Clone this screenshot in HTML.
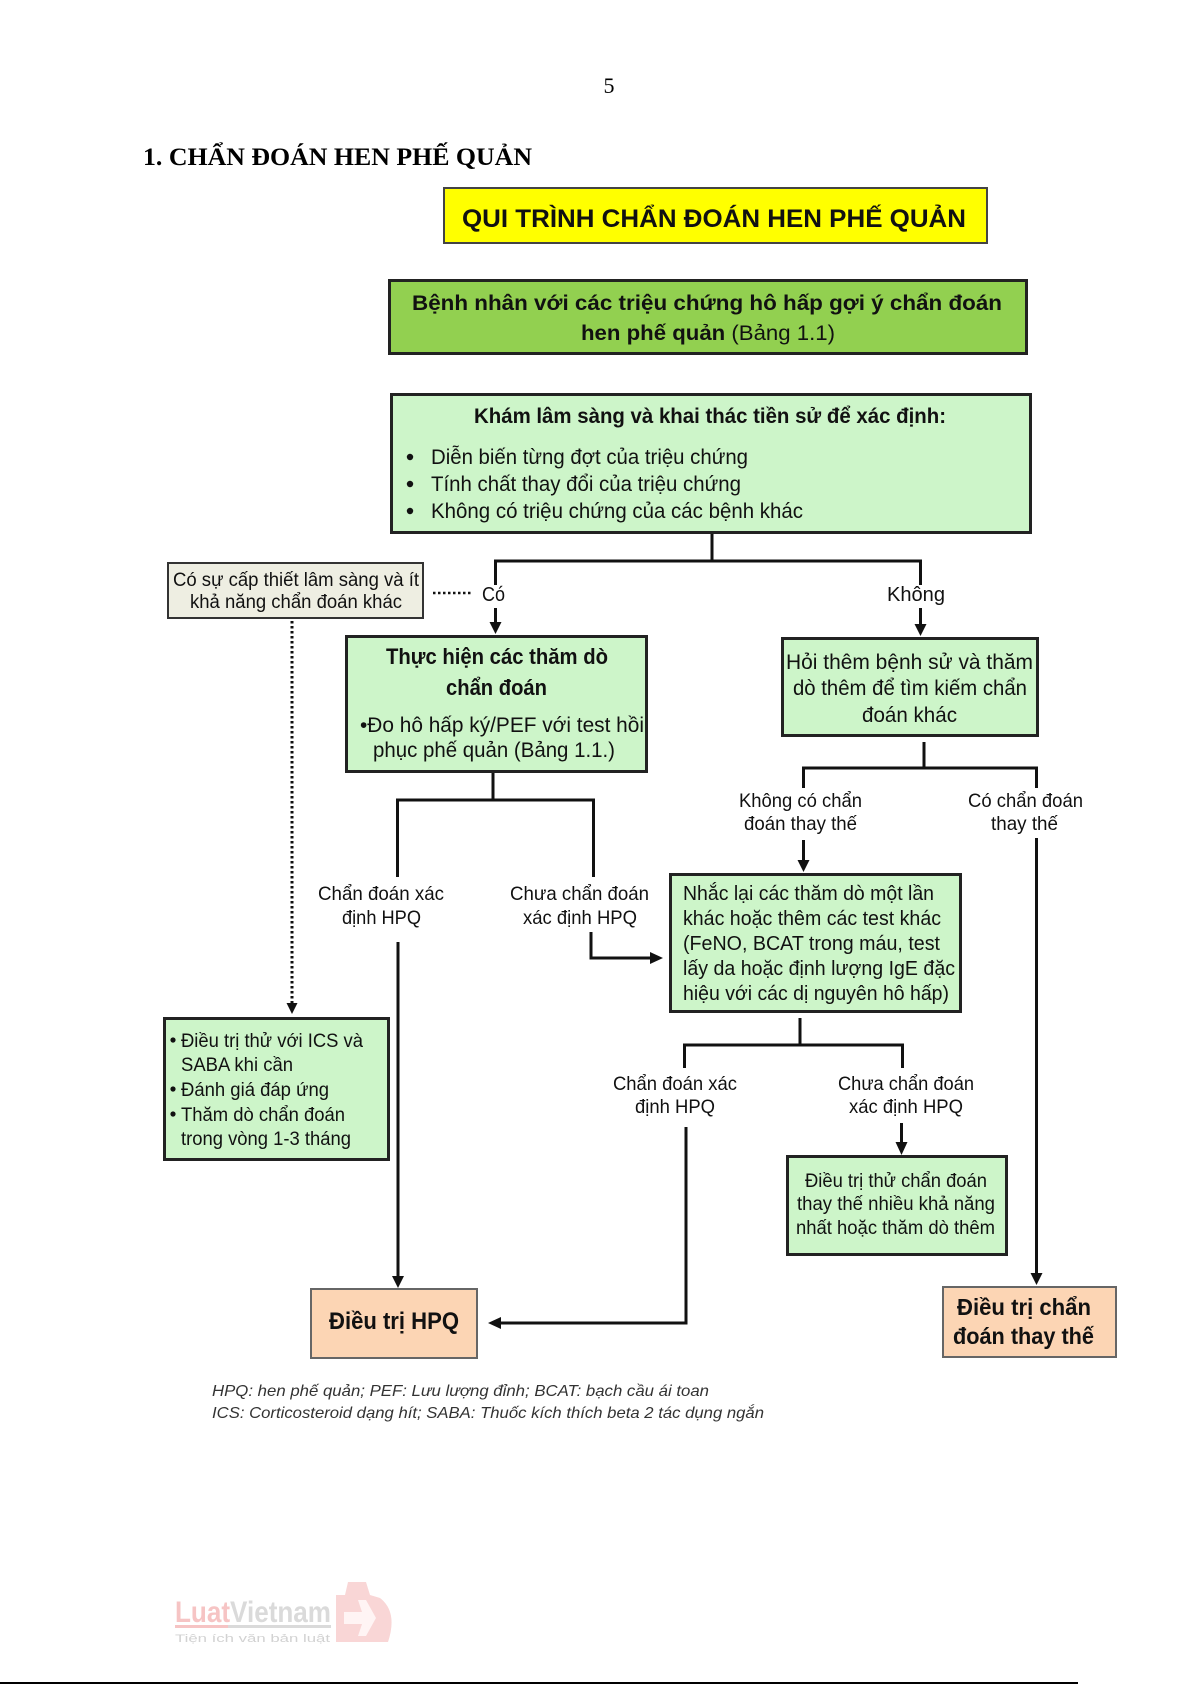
<!DOCTYPE html>
<html>
<head>
<meta charset="utf-8">
<style>
  html,body{margin:0;padding:0;background:#fff;}
  body{width:1192px;height:1685px;overflow:hidden;}
  svg{display:block;}
  .s{font-family:"Liberation Sans",Arial,sans-serif;fill:#111;}
  .b{font-weight:bold;}
  .t{font-family:"Liberation Serif","Times New Roman",serif;fill:#000;}
</style>
</head>
<body>
<svg width="1192" height="1685" viewBox="0 0 1192 1685" xmlns="http://www.w3.org/2000/svg">
  <rect x="0" y="0" width="1192" height="1685" fill="#fff"/>

  <!-- page number & heading -->
  <text class="t" x="609" y="93" font-size="22" text-anchor="middle">5</text>
  <text class="t" x="143" y="165" font-size="25" font-weight="bold" textLength="389" lengthAdjust="spacingAndGlyphs">1. CHẨN ĐOÁN HEN PHẾ QUẢN</text>

  <!-- yellow title -->
  <rect x="444" y="188" width="543" height="55" fill="#ffff00" stroke="#444" stroke-width="2"/>
  <text class="s b" x="462" y="227" font-size="25" textLength="504" lengthAdjust="spacingAndGlyphs">QUI TRÌNH CHẨN ĐOÁN HEN PHẾ QUẢN</text>

  <!-- green 1 -->
  <rect x="389.5" y="280.5" width="637" height="73" fill="#92d050" stroke="#222" stroke-width="3"/>
  <text class="s b" x="412" y="310" font-size="21" textLength="590" lengthAdjust="spacingAndGlyphs">Bệnh nhân với các triệu chứng hô hấp gợi ý chẩn đoán</text>
  <text class="s" x="581" y="340" font-size="21" textLength="254" lengthAdjust="spacingAndGlyphs"><tspan font-weight="bold">hen phế quản </tspan><tspan>(Bảng 1.1)</tspan></text>

  <!-- Kham box -->
  <rect x="391.5" y="394.5" width="639" height="138" fill="#cdf5c9" stroke="#222" stroke-width="3"/>
  <text class="s b" x="474" y="423" font-size="21" textLength="472" lengthAdjust="spacingAndGlyphs">Khám lâm sàng và khai thác tiền sử để xác định:</text>
  <circle cx="410" cy="457" r="3.2" fill="#111"/>
  <circle cx="410" cy="484" r="3.2" fill="#111"/>
  <circle cx="410" cy="511" r="3.2" fill="#111"/>
  <text class="s" x="431" y="464" font-size="21" textLength="317" lengthAdjust="spacingAndGlyphs">Diễn biến từng đợt của triệu chứng</text>
  <text class="s" x="431" y="491" font-size="21" textLength="310" lengthAdjust="spacingAndGlyphs">Tính chất thay đổi của triệu chứng</text>
  <text class="s" x="431" y="518" font-size="21" textLength="372" lengthAdjust="spacingAndGlyphs">Không có triệu chứng của các bệnh khác</text>

  <!-- connector from Kham -->
  <g stroke="#111" stroke-width="3" fill="none">
    <line x1="712" y1="534" x2="712" y2="561"/>
    <line x1="494" y1="561" x2="922" y2="561"/>
    <line x1="495.5" y1="560" x2="495.5" y2="585"/>
    <line x1="920.5" y1="560" x2="920.5" y2="585"/>
    <line x1="495.5" y1="608" x2="495.5" y2="624"/>
    <line x1="920.5" y1="608" x2="920.5" y2="626"/>
  </g>
  <polygon points="489.5,622 501.5,622 495.5,634" fill="#111"/>
  <polygon points="914.5,624 926.5,624 920.5,636" fill="#111"/>
  <text class="s" x="482" y="601" font-size="20" textLength="23" lengthAdjust="spacingAndGlyphs">Có</text>
  <text class="s" x="887" y="601" font-size="20" textLength="58" lengthAdjust="spacingAndGlyphs">Không</text>
  <line x1="433" y1="593" x2="473" y2="593" stroke="#111" stroke-width="2.5" stroke-dasharray="2.5,2.5"/>

  <!-- gray box -->
  <rect x="168" y="563" width="255" height="55" fill="#eeeee2" stroke="#333" stroke-width="2"/>
  <text class="s" x="173" y="586" font-size="19" textLength="246" lengthAdjust="spacingAndGlyphs">Có sự cấp thiết lâm sàng và ít</text>
  <text class="s" x="190" y="608" font-size="19" textLength="212" lengthAdjust="spacingAndGlyphs">khả năng chẩn đoán khác</text>

  <!-- dotted vertical -->
  <line x1="292" y1="621" x2="292" y2="1003" stroke="#111" stroke-width="3" stroke-dasharray="2.5,2.5"/>
  <polygon points="286.5,1003 297.5,1003 292,1014" fill="#111"/>

  <!-- Thuc hien box -->
  <rect x="346.5" y="636.5" width="300" height="135" fill="#cdf5c9" stroke="#222" stroke-width="3"/>
  <text class="s b" x="386" y="664" font-size="22" textLength="222" lengthAdjust="spacingAndGlyphs">Thực hiện các thăm dò</text>
  <text class="s b" x="446" y="695" font-size="22" textLength="101" lengthAdjust="spacingAndGlyphs">chẩn đoán</text>
  <text class="s" x="360" y="732" font-size="21" textLength="284" lengthAdjust="spacingAndGlyphs">•Đo hô hấp ký/PEF với test hồi</text>
  <text class="s" x="373" y="757" font-size="21" textLength="242" lengthAdjust="spacingAndGlyphs">phục phế quản (Bảng 1.1.)</text>

  <!-- Hoi box -->
  <rect x="782.5" y="638.5" width="255" height="97" fill="#cdf5c9" stroke="#222" stroke-width="3"/>
  <text class="s" x="786" y="669" font-size="21" textLength="247" lengthAdjust="spacingAndGlyphs">Hỏi  thêm bệnh sử và thăm</text>
  <text class="s" x="793" y="695" font-size="21" textLength="234" lengthAdjust="spacingAndGlyphs">dò thêm để tìm kiếm chẩn</text>
  <text class="s" x="862" y="722" font-size="21" textLength="95" lengthAdjust="spacingAndGlyphs">đoán khác</text>

  <!-- connectors from Thuc hien -->
  <g stroke="#111" stroke-width="3" fill="none">
    <line x1="493" y1="773" x2="493" y2="800"/>
    <line x1="396" y1="800" x2="595" y2="800"/>
    <line x1="397.5" y1="799" x2="397.5" y2="877"/>
    <line x1="593.5" y1="799" x2="593.5" y2="877"/>
    <line x1="398" y1="942" x2="398" y2="1276"/>
    <polyline points="591,932 591,958 652,958"/>
  </g>
  <polygon points="392,1276 404,1276 398,1288" fill="#111"/>
  <polygon points="650,952 650,964 663,958" fill="#111"/>
  <text class="s" x="318" y="900" font-size="19.5" textLength="126" lengthAdjust="spacingAndGlyphs">Chẩn đoán xác</text>
  <text class="s" x="342" y="924" font-size="19.5" textLength="79" lengthAdjust="spacingAndGlyphs">định HPQ</text>
  <text class="s" x="510" y="900" font-size="19.5" textLength="139" lengthAdjust="spacingAndGlyphs">Chưa chẩn đoán</text>
  <text class="s" x="523" y="924" font-size="19.5" textLength="114" lengthAdjust="spacingAndGlyphs">xác định HPQ</text>

  <!-- connectors from Hoi -->
  <g stroke="#111" stroke-width="3" fill="none">
    <line x1="924" y1="742" x2="924" y2="768"/>
    <line x1="802" y1="768" x2="1038" y2="768"/>
    <line x1="803.5" y1="767" x2="803.5" y2="788"/>
    <line x1="1036.5" y1="767" x2="1036.5" y2="788"/>
    <line x1="803.5" y1="840" x2="803.5" y2="861"/>
    <line x1="1036.5" y1="838" x2="1036.5" y2="1274"/>
  </g>
  <polygon points="797.5,860 809.5,860 803.5,872" fill="#111"/>
  <polygon points="1030.5,1273 1042.5,1273 1036.5,1285" fill="#111"/>
  <text class="s" x="739" y="807" font-size="19.5" textLength="123" lengthAdjust="spacingAndGlyphs">Không có chẩn</text>
  <text class="s" x="744" y="830" font-size="19.5" textLength="113" lengthAdjust="spacingAndGlyphs">đoán thay thế</text>
  <text class="s" x="968" y="807" font-size="19.5" textLength="115" lengthAdjust="spacingAndGlyphs">Có chẩn đoán</text>
  <text class="s" x="991" y="830" font-size="19.5" textLength="67" lengthAdjust="spacingAndGlyphs">thay thế</text>

  <!-- Nhac lai box -->
  <rect x="670.5" y="874.5" width="290" height="137" fill="#cdf5c9" stroke="#222" stroke-width="3"/>
  <text class="s" x="683" y="900" font-size="20" textLength="251" lengthAdjust="spacingAndGlyphs">Nhắc lại các thăm dò một lần</text>
  <text class="s" x="683" y="925" font-size="20" textLength="258" lengthAdjust="spacingAndGlyphs">khác hoặc thêm các test khác</text>
  <text class="s" x="683" y="950" font-size="20" textLength="257" lengthAdjust="spacingAndGlyphs">(FeNO, BCAT trong máu, test</text>
  <text class="s" x="683" y="975" font-size="20" textLength="272" lengthAdjust="spacingAndGlyphs">lấy da hoặc định lượng IgE đặc</text>
  <text class="s" x="683" y="1000" font-size="20" textLength="266" lengthAdjust="spacingAndGlyphs">hiệu với các dị nguyên hô hấp)</text>

  <!-- connectors from Nhac lai -->
  <g stroke="#111" stroke-width="3" fill="none">
    <line x1="800" y1="1018" x2="800" y2="1045"/>
    <line x1="683" y1="1045" x2="904" y2="1045"/>
    <line x1="684.5" y1="1044" x2="684.5" y2="1068"/>
    <line x1="902.5" y1="1044" x2="902.5" y2="1068"/>
    <line x1="901.5" y1="1123" x2="901.5" y2="1143"/>
    <polyline points="686,1127 686,1323 500,1323"/>
  </g>
  <polygon points="895.5,1142 907.5,1142 901.5,1155" fill="#111"/>
  <polygon points="501,1317 501,1329 488,1323" fill="#111"/>
  <text class="s" x="613" y="1090" font-size="19.5" textLength="124" lengthAdjust="spacingAndGlyphs">Chẩn đoán xác</text>
  <text class="s" x="635" y="1113" font-size="19.5" textLength="80" lengthAdjust="spacingAndGlyphs">định HPQ</text>
  <text class="s" x="838" y="1090" font-size="19.5" textLength="136" lengthAdjust="spacingAndGlyphs">Chưa chẩn đoán</text>
  <text class="s" x="849" y="1113" font-size="19.5" textLength="114" lengthAdjust="spacingAndGlyphs">xác định HPQ</text>

  <!-- left treatment box -->
  <rect x="164.5" y="1018.5" width="224" height="141" fill="#cdf5c9" stroke="#222" stroke-width="3"/>
  <circle cx="173" cy="1040" r="2.6" fill="#111"/>
  <circle cx="173" cy="1089" r="2.6" fill="#111"/>
  <circle cx="173" cy="1114" r="2.6" fill="#111"/>
  <text class="s" x="181" y="1047" font-size="19" textLength="182" lengthAdjust="spacingAndGlyphs">Điều trị thử với ICS và</text>
  <text class="s" x="181" y="1071" font-size="19" textLength="112" lengthAdjust="spacingAndGlyphs">SABA khi cần</text>
  <text class="s" x="181" y="1096" font-size="19" textLength="148" lengthAdjust="spacingAndGlyphs">Đánh giá đáp ứng</text>
  <text class="s" x="181" y="1121" font-size="19" textLength="164" lengthAdjust="spacingAndGlyphs">Thăm dò chẩn đoán</text>
  <text class="s" x="181" y="1145" font-size="19" textLength="170" lengthAdjust="spacingAndGlyphs">trong vòng 1-3 tháng</text>

  <!-- Dieu tri thu box -->
  <rect x="787.5" y="1156.5" width="219" height="98" fill="#cdf5c9" stroke="#222" stroke-width="3"/>
  <text class="s" x="805" y="1187" font-size="19" textLength="182" lengthAdjust="spacingAndGlyphs">Điều trị thử chẩn đoán</text>
  <text class="s" x="797" y="1210" font-size="19" textLength="198" lengthAdjust="spacingAndGlyphs">thay thế nhiều khả năng</text>
  <text class="s" x="796" y="1234" font-size="19" textLength="199" lengthAdjust="spacingAndGlyphs">nhất hoặc thăm dò thêm</text>

  <!-- Dieu tri HPQ -->
  <rect x="311" y="1289" width="166" height="69" fill="#fcd5b4" stroke="#666" stroke-width="2"/>
  <text class="s b" x="329" y="1329" font-size="24" textLength="130" lengthAdjust="spacingAndGlyphs">Điều trị HPQ</text>

  <!-- Dieu tri chan doan thay the -->
  <rect x="943" y="1287" width="173" height="70" fill="#fcd5b4" stroke="#666" stroke-width="2"/>
  <text class="s b" x="957" y="1315" font-size="23" textLength="134" lengthAdjust="spacingAndGlyphs">Điều trị chẩn</text>
  <text class="s b" x="953" y="1344" font-size="23" textLength="141" lengthAdjust="spacingAndGlyphs">đoán thay thế</text>

  <!-- footnote -->
  <text class="s" x="212" y="1396" font-size="16" font-style="italic" fill="#333" style="fill:#333" textLength="497" lengthAdjust="spacingAndGlyphs">HPQ: hen phế quản; PEF: Lưu lượng đỉnh; BCAT: bạch cầu ái toan</text>
  <text class="s" x="212" y="1418" font-size="16" font-style="italic" style="fill:#333" textLength="552" lengthAdjust="spacingAndGlyphs">ICS: Corticosteroid dạng hít; SABA: Thuốc kích thích beta 2 tác dụng ngắn</text>

  <!-- watermark logo -->
  <text x="175" y="1622" font-family="Liberation Sans, sans-serif" font-weight="bold" font-size="30" textLength="156" lengthAdjust="spacingAndGlyphs"><tspan fill="#f6c4c4">Luat</tspan><tspan fill="#dadada">Vietnam</tspan></text>
  <rect x="175" y="1625" width="53" height="3" fill="#f6c4c4"/>
  <rect x="228" y="1625" width="103" height="3" fill="#dadada"/>
  <text x="175" y="1642" font-family="Liberation Sans, sans-serif" font-size="11" fill="#d2d2d2" textLength="155" lengthAdjust="spacingAndGlyphs">Tiện ích văn bản luật</text>
  <path d="M336,1595 L345,1595 L348,1582 L366,1582 L370,1595 L380,1598 Q398,1612 388,1642 L336,1642 Z" fill="#f9d6d6"/>
  <path d="M344,1612 L362,1612 L358,1600 L366,1600 L376,1618 L366,1636 L358,1636 L362,1624 L344,1624 Z" fill="#fff4f4"/>

  <!-- bottom rule -->
  <rect x="0" y="1682" width="1078" height="2" fill="#000"/>
</svg>
</body>
</html>
